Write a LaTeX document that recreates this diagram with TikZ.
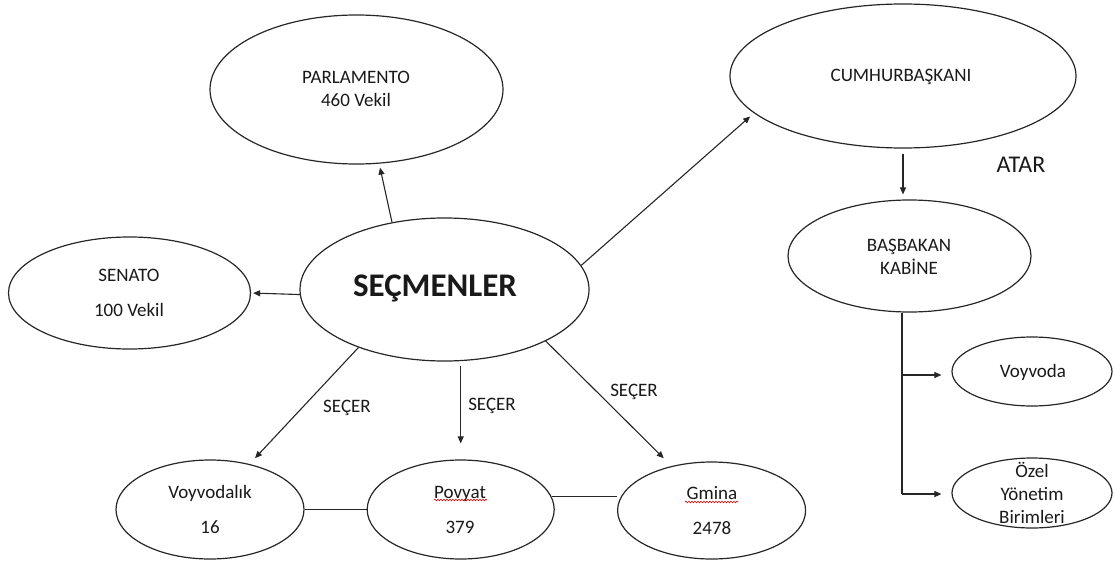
\documentclass[tikz,border=0pt]{standalone}
\usepackage{fontspec}
\setmainfont{Carlito}
\usetikzlibrary{shapes.geometric,arrows.meta,decorations.pathmorphing}
\begin{document}
\begin{tikzpicture}[x=1pt,y=-1pt,
  oval/.style={draw=black!85, line width=1.2pt, ellipse, inner sep=0pt},
  txt/.style={align=center, font=\fontsize{19}{23}\selectfont, inner sep=0pt, text=black!90},
  arr/.style={draw=black!85, line width=1.1pt, -{Triangle[length=7pt,width=6pt]}},
  ln/.style={draw=black!85, line width=1.1pt},
  wavy/.style={draw=red!85!black, line width=0.6pt, decorate, decoration={snake, amplitude=0.8pt, segment length=3pt}}]
\useasboundingbox (0,0) rectangle (1114,562);

% ellipses
\node[oval, minimum width=293pt, minimum height=149pt] (parl) at (356.5,89.5) {};
\node[oval, minimum width=242pt, minimum height=112pt] (sen) at (129.5,293) {};
\node[oval, minimum width=289pt, minimum height=143pt] (sec) at (444.5,289.5) {};
\node[oval, minimum width=346pt, minimum height=144pt] (cum) at (903,76) {};
\node[oval, minimum width=243pt, minimum height=112pt] (bas) at (909.5,256) {};
\node[oval, minimum width=188pt, minimum height=99pt] (voy) at (210,509.5) {};
\node[oval, minimum width=187pt, minimum height=99pt] (pov) at (460.7,509.5) {};
\node[oval, minimum width=188pt, minimum height=97pt] (gmi) at (711.6,510.5) {};
\node[oval, minimum width=160pt, minimum height=69pt] (vvd) at (1032,371.5) {};
\node[oval, minimum width=160pt, minimum height=70pt] (oze) at (1032,493) {};

% texts
\node[txt] (parlt) at (356,89) {PARLAMENTO\\460 Vekil};
\node[txt] (sent) at (129,292.5) {SENATO\\[12pt]100 Vekil};
\node[txt, font=\fontsize{33}{38}\selectfont\bfseries] (sect) at (435,288) {SEÇMENLER};
\node[txt] (cumt) at (901,77) {CUMHURBAŞKANI};
\node[txt, font=\fontsize{24}{28}\selectfont] (atar) at (1021,165) {ATAR};
\node[txt] (bast) at (909,256.5) {BAŞBAKAN\\KABİNE};
\node[txt] (voyt) at (210,509.5) {Voyvodalık\\[12pt]16};
\node[txt] (povt) at (460,509.5) {Povyat\\[12pt]379};
\node[txt] (gmit) at (712,510.5) {Gmina\\[12pt]2478};
\node[txt] (vvdt) at (1033,372) {Voyvoda};
\node[txt] (ozet) at (1032,493) {Özel\\Yönetim\\Birimleri};
\node[txt] (s1) at (347,408) {SEÇER};
\node[txt] (s2) at (492,406) {SEÇER};
\node[txt] (s3) at (634,392) {SEÇER};

% spell-check underlines
\draw[wavy] (434,500) -- (487,500);
\draw[wavy] (685,502) -- (738,502);

% connectors
\draw[arr, shorten >=4pt] (sec.128) -- (parl.287);
\draw[arr, shorten >=2pt] (sec.182) -- (sen.east);
\draw[arr, shorten >=5pt] (sec.10) -- (cum.194);
\draw[arr, shorten >=8pt] (sec.214) -- (voy.49);
\draw[arr, shorten <=4pt, shorten >=16pt] (pov.north |- sec.south) -- (pov.north);
\draw[arr, shorten >=11pt] (sec.333) -- (gmi.132);
\draw[arr, shorten <=5pt, shorten >=5pt] (cum.south) -- (cum.south |- bas.north);

\coordinate (t1) at (902,375);
\coordinate (t2) at (902,494);
\draw[ln] (t1 |- bas.south) -- (t2);
\draw[arr, shorten >=10pt] (t1) -- (t1 -| vvd.west);
\draw[arr, shorten >=10pt] (t2) -- (t2 -| oze.west);

\draw[ln] (voy.east) -- (pov.west);
\draw[ln] (pov.8) -- (pov.8 -| gmi.west);
\end{tikzpicture}
\end{document}
